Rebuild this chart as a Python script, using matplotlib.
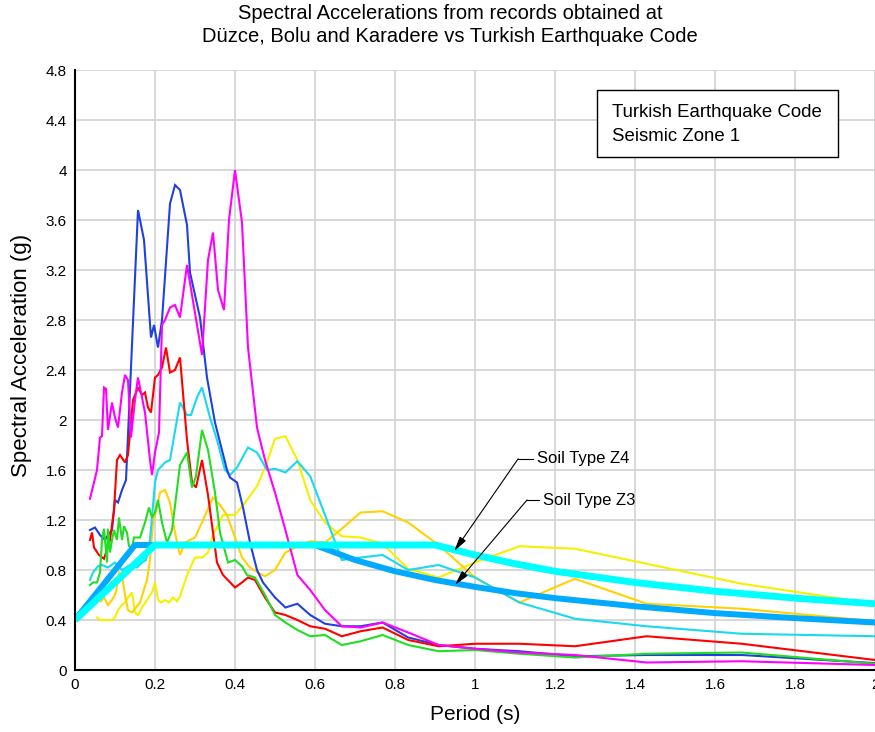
import matplotlib.pyplot as plt
from matplotlib.patches import Rectangle

plt.rcParams['font.family'] = ['Liberation Sans', 'DejaVu Sans']

# long-period part shared by every record (periods in s)
t_long = [0.5, 0.526, 0.556, 0.588, 0.625, 0.667, 0.714, 0.769, 0.833, 0.909,
          1.0, 1.111, 1.25, 1.429, 1.667, 2.0]

# blue record
t_blue = [0.0375, 0.05, 0.0625, 0.075, 0.0825, 0.0925, 0.1, 0.1075, 0.1175, 0.1275,
          0.1575, 0.1725, 0.19, 0.1975, 0.2075, 0.2175, 0.2375, 0.25, 0.2625, 0.28,
          0.2875, 0.3125, 0.33, 0.35, 0.38, 0.3875, 0.405, 0.42, 0.4375, 0.455, 0.47] + t_long
a_blue = [1.12, 1.14, 1.08, 1.04, 1.08, 1.12, 1.36, 1.34, 1.44, 1.52,
          3.68, 3.44, 2.66, 2.76, 2.58, 2.8, 3.73, 3.88, 3.84, 3.56,
          3.18, 2.82, 2.34, 1.98, 1.6, 1.54, 1.5, 1.3, 1.02, 0.8, 0.7,
          0.58, 0.5, 0.53, 0.44, 0.37, 0.35, 0.35, 0.38, 0.26, 0.2,
          0.17, 0.15, 0.11, 0.12, 0.12, 0.055]

# red record
t_red = [0.0375, 0.0425, 0.0475, 0.06, 0.0725, 0.0875, 0.0975, 0.105, 0.1125, 0.125,
         0.1325, 0.145, 0.1575, 0.1675, 0.175, 0.1825, 0.19, 0.2, 0.2075, 0.2175,
         0.2275, 0.2375, 0.25, 0.2625, 0.28, 0.2925, 0.3025, 0.3175, 0.3325, 0.355,
         0.37, 0.4, 0.4175, 0.4325, 0.45, 0.475] + t_long
a_red = [1.04, 1.1, 0.98, 0.92, 0.89, 1.04, 1.28, 1.68, 1.72, 1.66,
         1.72, 2.16, 2.26, 2.2, 2.22, 2.1, 2.06, 2.34, 2.36, 2.42,
         2.58, 2.38, 2.4, 2.5, 1.84, 1.5, 1.46, 1.68, 1.4, 0.86,
         0.76, 0.66, 0.7, 0.74, 0.72, 0.58,
         0.46, 0.44, 0.4, 0.35, 0.33, 0.27, 0.31, 0.34, 0.24, 0.19,
         0.21, 0.21, 0.19, 0.27, 0.21, 0.08]

# green record
t_green = [0.0375, 0.045, 0.055, 0.0625, 0.0675, 0.0725, 0.08, 0.0825, 0.0875, 0.0925,
           0.0975, 0.105, 0.11, 0.1175, 0.1225, 0.13, 0.135, 0.1425, 0.1475, 0.1625,
           0.175, 0.185, 0.1925, 0.2, 0.2075, 0.2175, 0.23, 0.2425, 0.2625, 0.28,
           0.2925, 0.3025, 0.3175, 0.3325, 0.35, 0.3625, 0.3825, 0.4, 0.4175, 0.43,
           0.45, 0.475] + t_long
a_green = [0.68, 0.7, 0.7, 0.78, 1.04, 1.13, 0.86, 1.13, 0.94, 1.04,
           1.12, 1.04, 1.22, 1.04, 1.15, 1.1, 0.99, 0.98, 1.06, 1.06,
           1.18, 1.3, 1.22, 1.26, 1.36, 1.18, 1.02, 1.12, 1.64, 1.74,
           1.46, 1.55, 1.92, 1.76, 1.42, 1.1, 0.86, 0.88, 0.83, 0.76,
           0.74, 0.6,
           0.44, 0.38, 0.32, 0.27, 0.28, 0.2, 0.23, 0.28, 0.2, 0.15,
           0.16, 0.13, 0.1, 0.13, 0.14, 0.05]

# magenta record
t_magenta = [0.0375, 0.0475, 0.055, 0.0625, 0.0675, 0.0725, 0.0775, 0.0825, 0.0925, 0.1,
             0.1075, 0.1175, 0.125, 0.1325, 0.14, 0.15, 0.1575, 0.175, 0.1875, 0.1925,
             0.2, 0.21, 0.2175, 0.225, 0.2375, 0.25, 0.2625, 0.28, 0.3175, 0.3325,
             0.345, 0.3575, 0.3725, 0.385, 0.4, 0.4175, 0.4325, 0.455, 0.475] + t_long
a_magenta = [1.37, 1.5, 1.6, 1.86, 1.87, 2.26, 2.25, 1.92, 2.14, 2.02,
             1.94, 2.22, 2.36, 2.32, 1.86, 2.16, 2.34, 2.06, 1.68, 1.56,
             1.74, 1.9, 2.76, 2.8, 2.9, 2.92, 2.82, 3.24, 2.52, 3.28,
             3.5, 3.04, 2.88, 3.6, 4.0, 3.58, 2.58, 1.94, 1.68,
             1.42, 1.12, 0.76, 0.64, 0.48, 0.35, 0.34, 0.38, 0.3, 0.2,
             0.17, 0.14, 0.12, 0.06, 0.07, 0.04]

# cyan record
t_cyan = [0.0375, 0.045, 0.0575, 0.0675, 0.0825, 0.1, 0.1175, 0.1375, 0.155, 0.1675,
          0.1775, 0.1875, 0.2, 0.2075, 0.225, 0.2375, 0.2625, 0.28, 0.29, 0.305,
          0.3175, 0.3375, 0.355, 0.375, 0.3875, 0.405, 0.4325, 0.455, 0.48] + t_long
a_cyan = [0.72, 0.78, 0.83, 0.84, 0.82, 0.86, 0.8, 0.84, 0.82, 0.86,
          0.88, 1.04, 1.5, 1.6, 1.66, 1.68, 2.14, 2.04, 2.04, 2.18,
          2.26, 2.02, 1.84, 1.6, 1.56, 1.62, 1.78, 1.74, 1.6,
          1.61, 1.58, 1.67, 1.55, 1.24, 0.88, 0.9, 0.92, 0.8, 0.84,
          0.74, 0.54, 0.41, 0.35, 0.29, 0.27]

# gold record
t_gold = [0.05, 0.0575, 0.065, 0.0725, 0.0825, 0.0925, 0.1025, 0.11, 0.1175, 0.125,
          0.1325, 0.1425, 0.1525, 0.1625, 0.17, 0.18, 0.1875, 0.195, 0.205, 0.2125,
          0.225, 0.2375, 0.25, 0.2625, 0.275, 0.3, 0.3175, 0.345, 0.3625, 0.38,
          0.4, 0.4175, 0.4375, 0.4575, 0.475] + t_long
a_gold = [0.55, 0.6, 0.55, 0.58, 0.52, 0.56, 0.62, 0.78, 0.76, 0.6,
          0.48, 0.46, 0.5, 0.54, 0.62, 0.72, 0.88, 1.18, 1.3, 1.42,
          1.44, 1.34, 1.1, 0.92, 1.02, 1.06, 1.18, 1.38, 1.32, 1.24,
          1.06, 0.9, 0.82, 0.78, 0.75,
          0.8, 0.94, 0.99, 1.03, 1.02, 1.13, 1.26, 1.27, 1.18, 1.0,
          0.74, 0.54, 0.73, 0.53, 0.49, 0.39]

# yellow record
t_yellow = [0.055, 0.0625, 0.075, 0.0925, 0.1, 0.1075, 0.1175, 0.125, 0.1325, 0.1425,
            0.15, 0.1575, 0.1675, 0.18, 0.1925, 0.2, 0.2075, 0.215, 0.225, 0.235,
            0.245, 0.255, 0.2625, 0.2825, 0.3, 0.3175, 0.3325, 0.345, 0.37, 0.4,
            0.43, 0.455, 0.475] + t_long
a_yellow = [0.42, 0.4, 0.4, 0.4, 0.42, 0.48, 0.52, 0.54, 0.58, 0.62,
            0.46, 0.44, 0.5, 0.56, 0.62, 0.7, 0.56, 0.54, 0.56, 0.54,
            0.58, 0.55, 0.59, 0.78, 0.9, 0.9, 0.94, 1.08, 1.24, 1.24,
            1.36, 1.47, 1.62,
            1.85, 1.87, 1.68, 1.36, 1.18, 1.07, 1.06, 1.01, 0.81, 0.74,
            0.86, 0.99, 0.97, 0.85, 0.69, 0.53]

# Turkish Earthquake Code, seismic zone 1
t_z3 = [0.0, 0.15, 0.6, 0.7, 0.8, 0.9, 1.0, 1.1, 1.2, 1.4, 1.6, 1.8, 2.0]
a_z3 = [0.4, 1.0, 1.0, 0.88, 0.79, 0.72, 0.665, 0.615, 0.575, 0.51, 0.455, 0.415, 0.38]
t_z4 = [0.0, 0.2, 0.9, 1.0, 1.1, 1.2, 1.4, 1.6, 1.8, 2.0]
a_z4 = [0.4, 1.0, 1.0, 0.92, 0.85, 0.79, 0.70, 0.63, 0.575, 0.53]

x_ticks = [0, 0.2, 0.4, 0.6, 0.8, 1, 1.2, 1.4, 1.6, 1.8, 2]
x_labels = ['0', '0.2', '0.4', '0.6', '0.8', '1', '1.2', '1.4', '1.6', '1.8', '2']
y_ticks = [0, 0.4, 0.8, 1.2, 1.6, 2, 2.4, 2.8, 3.2, 3.6, 4, 4.4, 4.8]
y_labels = ['0', '0.4', '0.8', '1.2', '1.6', '2', '2.4', '2.8', '3.2', '3.6', '4', '4.4', '4.8']

fig = plt.figure(figsize=(8.75, 7.32), dpi=100)
ax = fig.add_axes([75 / 875, 62 / 732, 800 / 875, 600 / 732])

records = [
    (t_yellow, a_yellow, '#f5f000'),
    (t_gold, a_gold, '#ffd200'),
    (t_cyan, a_cyan, '#19d9ee'),
    (t_blue, a_blue, '#2040e0'),
    (t_red, a_red, '#ff0000'),
    (t_green, a_green, '#22dd22'),
    (t_magenta, a_magenta, '#ff00ff'),
]
for t, a, c in records:
    ax.plot(t, a, color=c, lw=1.5, zorder=3, solid_joinstyle='miter')

ax.plot(t_z3, a_z3, color='#00aaff', lw=4.3, zorder=4, solid_capstyle='butt')
ax.plot(t_z4, a_z4, color='#00ffff', lw=5.0, zorder=5, solid_capstyle='butt')

ax.set_xlim(0, 2)
ax.set_ylim(0, 4.8)
ax.set_xticks(x_ticks)
ax.set_xticklabels(x_labels)
ax.set_yticks(y_ticks)
ax.set_yticklabels(y_labels)
ax.tick_params(length=0, labelsize=11, pad=6)
ax.grid(True, color='#d4d4d4', lw=1.3, zorder=0)
ax.set_axisbelow(True)
for side in ('top', 'right'):
    ax.spines[side].set_visible(False)
for side in ('left', 'bottom'):
    ax.spines[side].set_linewidth(1.5)
    ax.spines[side].set_zorder(6)

# label box
ax.add_patch(Rectangle((0.6525, 0.855), 0.3015, 0.112, transform=ax.transAxes,
                       facecolor='white', edgecolor='black', lw=1.0, zorder=7))
ax.text(0.671, 0.909, 'Turkish Earthquake Code\nSeismic Zone 1', transform=ax.transAxes,
        fontsize=13.4, va='center', ha='left', linespacing=1.5, zorder=8)

# soil type callouts
callouts = [('Soil Type Z4', (0.948, 0.95), (1.108, 1.69), (1.155, 1.69)),
            ('Soil Type Z3', (0.95, 0.68), (1.13, 1.36), (1.17, 1.36))]
for label, tip, knee, txt in callouts:
    ax.annotate('', xy=tip, xytext=knee, zorder=8,
                arrowprops=dict(arrowstyle='-|>,head_length=0.9,head_width=0.22',
                                color='black', lw=0.8, shrinkA=0, shrinkB=0))
    ax.plot([knee[0], txt[0] - 0.01], [knee[1], knee[1]], color='black', lw=0.8, zorder=8)
    ax.text(txt[0], txt[1], label, fontsize=12, va='center', ha='left', zorder=8)

fig.text(450 / 875, 1 - 25 / 732,
         'Spectral Accelerations from records obtained at\n'
         'Düzce, Bolu and Karadere vs Turkish Earthquake Code',
         ha='center', va='center', fontsize=14.5, linespacing=1.3)
fig.text(475 / 875, 1 - 714 / 732, 'Period (s)', ha='center', va='center', fontsize=15)
fig.text(22 / 875, 1 - 355 / 732, 'Spectral Acceleration (g)', ha='center', va='center',
         fontsize=16, rotation=90)

fig.savefig('out.png', dpi=100)
